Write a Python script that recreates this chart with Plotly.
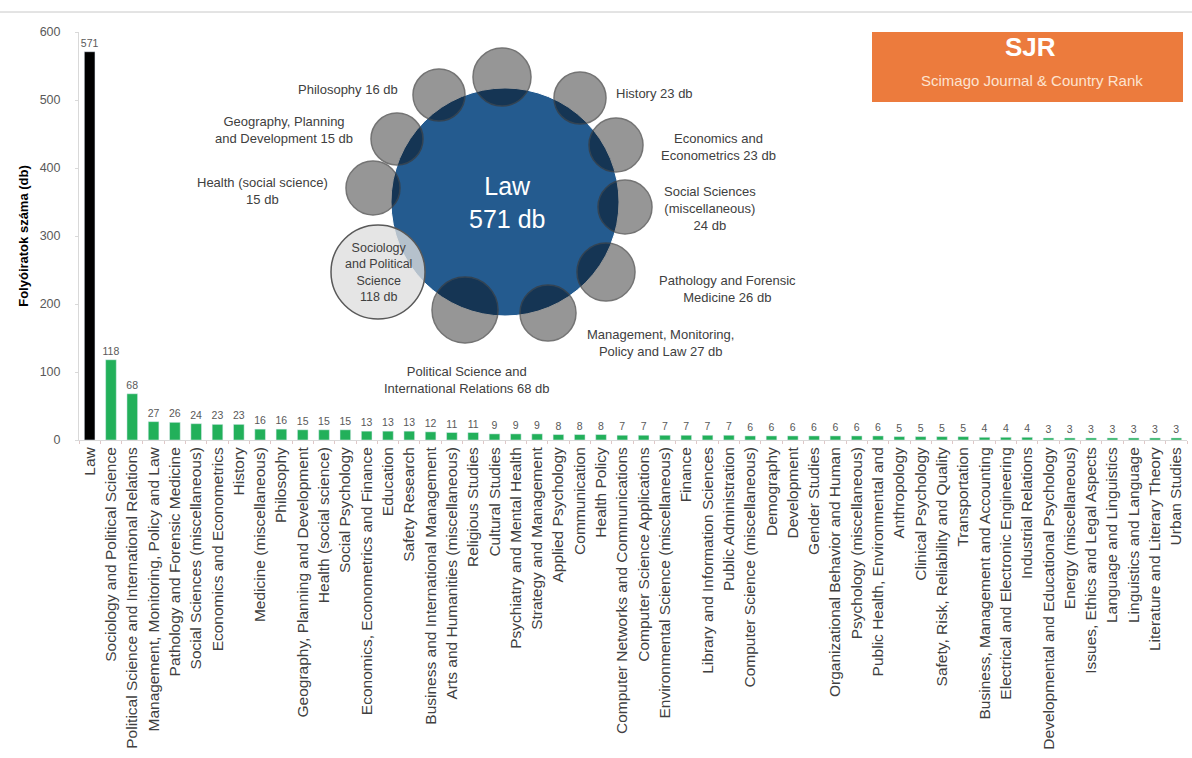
import plotly.graph_objects as go

categories = [
    "Law", "Sociology and Political Science", "Political Science and International Relations",
    "Management, Monitoring, Policy and Law", "Pathology and Forensic Medicine",
    "Social Sciences (miscellaneous)", "Economics and Econometrics", "History",
    "Medicine (miscellaneous)", "Philosophy", "Geography, Planning and Development",
    "Health (social science)", "Social Psychology", "Economics, Econometrics and Finance",
    "Education", "Safety Research", "Business and International Management",
    "Arts and Humanities (miscellaneous)", "Religious Studies", "Cultural Studies",
    "Psychiatry and Mental Health", "Strategy and Management", "Applied Psychology",
    "Communication", "Health Policy", "Computer Networks and Communications",
    "Computer Science Applications", "Environmental Science (miscellaneous)", "Finance",
    "Library and Information Sciences", "Public Administration",
    "Computer Science (miscellaneous)", "Demography", "Development", "Gender Studies",
    "Organizational Behavior and Human", "Psychology (miscellaneous)",
    "Public Health, Environmental and", "Anthropology", "Clinical Psychology",
    "Safety, Risk, Reliability and Quality", "Transportation",
    "Business, Management and Accounting", "Electrical and Electronic Engineering",
    "Industrial Relations", "Developmental and Educational Psychology",
    "Energy (miscellaneous)", "Issues, Ethics and Legal Aspects",
    "Language and Linguistics", "Linguistics and Language",
    "Literature and Literary Theory", "Urban Studies",
]
counts = [571, 118, 68, 27, 26, 24, 23, 23, 16, 16, 15, 15, 15, 13, 13, 13, 12, 11, 11,
          9, 9, 9, 8, 8, 8, 7, 7, 7, 7, 7, 7, 6, 6, 6, 6, 6, 6, 6, 5, 5, 5, 5, 4, 4, 4,
          3, 3, 3, 3, 3, 3, 3]
y_ticks = [0, 100, 200, 300, 400, 500, 600]

# Bubble inset (figure-pixel layout positions, diameters)
bubble_names = ["Medicine (miscellaneous)", "History", "Economics and Econometrics",
                "Social Sciences (miscellaneous)", "Pathology and Forensic Medicine",
                "Management, Monitoring, Policy and Law",
                "Political Science and International Relations",
                "Health (social science)", "Geography, Planning and Development", "Philosophy"]
bubble_x = [502, 580, 616, 625, 606, 548, 465, 373, 397, 439]
bubble_y = [77, 98, 145, 207, 272, 313, 310, 188, 139, 95]
bubble_d = [58, 52, 54, 54, 58, 56, 66, 54, 52, 52]
law_pos = (505, 202, 228)
soc_pos = (378, 272, 94)

bubble_labels = [
    ("Medicine<br>(miscellaneous) 16 db", 510, 31, "center"),
    ("History 23 db", 614, 93, "left"),
    ("Economics and<br>Econometrics 23 db", 718, 147, "center"),
    ("Social Sciences<br>(miscellaneous)<br>24 db", 710, 208, "center"),
    ("Pathology and Forensic<br>Medicine 26 db", 727, 289, "center"),
    ("Management, Monitoring,<br>Policy and Law 27 db", 660, 343, "center"),
    ("Political Science and<br>International Relations 68 db", 467, 380, "center"),
    ("Health (social science)<br>15 db", 262, 191, "center"),
    ("Geography, Planning<br>and Development 15 db", 284, 130, "center"),
    ("Philosophy 16 db", 400, 89, "right"),
]

W, H = 1192, 758
L, R, T, B = 79, 5, 32, 318
LABEL_FONT = "Liberation Sans"

bar_colors = ["#000000"] + ["#22b05a"] * (len(counts) - 1)

fig = go.Figure()
fig.add_trace(go.Bar(
    x=categories, y=counts, marker_color=bar_colors, width=0.5,
    text=[str(c) for c in counts], textposition="outside", constraintext="none",
    textfont=dict(size=10.5, color="#595959", family=LABEL_FONT),
    cliponaxis=False, showlegend=False,
))

# Bubble inset on pixel-mapped overlay axes
fig.add_trace(go.Scatter(
    x=[law_pos[0]], y=[law_pos[1]], mode="markers", xaxis="x2", yaxis="y2",
    marker=dict(size=law_pos[2], color="#245b8f", line=dict(width=1, color="#ffffff")),
    showlegend=False, hoverinfo="skip", cliponaxis=False,
))
fig.add_trace(go.Scatter(
    x=bubble_x, y=bubble_y, mode="markers", xaxis="x2", yaxis="y2",
    marker=dict(size=bubble_d, color="rgba(0,0,0,0.58)", line=dict(width=1.5, color="#3a3a3a")),
    text=bubble_names, showlegend=False, hoverinfo="text", cliponaxis=False,
))
fig.add_trace(go.Scatter(
    x=[soc_pos[0]], y=[soc_pos[1]], mode="markers", xaxis="x2", yaxis="y2",
    marker=dict(size=soc_pos[2], color="rgba(222,222,222,0.78)", line=dict(width=1.5, color="#595959")),
    showlegend=False, hoverinfo="skip", cliponaxis=False,
))

annotations = []
for txt, x, y, al in bubble_labels:
    annotations.append(dict(
        x=x, y=y, xref="x2", yref="y2", text=txt, showarrow=False,
        xanchor=al, yanchor="middle", align=al,
        font=dict(size=13, color="#404040", family=LABEL_FONT),
    ))
annotations.append(dict(
    x=law_pos[0] + 2, y=law_pos[1], xref="x2", yref="y2", text="Law<br>571 db",
    showarrow=False, font=dict(size=25, color="#ffffff", family=LABEL_FONT),
))
annotations.append(dict(
    x=soc_pos[0], y=soc_pos[1], xref="x2", yref="y2",
    text="Sociology<br>and Political<br>Science<br>118 db",
    showarrow=False, font=dict(size=12.5, color="#404040", family=LABEL_FONT),
))
# SJR badge
annotations.append(dict(
    x=1030, y=47, xref="x2", yref="y2", text="<b>SJR</b>", showarrow=False,
    font=dict(size=26, color="#ffffff", family=LABEL_FONT),
))
annotations.append(dict(
    x=1032, y=80, xref="x2", yref="y2", text="Scimago Journal &amp; Country Rank",
    showarrow=False, font=dict(size=15, color="#fde3d0", family=LABEL_FONT),
))

PW, PH = W - L - R, H - T - B
shapes = [
    dict(type="rect", xref="x2", yref="y2", x0=872, x1=1183, y0=27, y1=102,
         fillcolor="#ec7b3d", line=dict(width=0), layer="below"),
    dict(type="line", xref="paper", yref="paper", x0=-L / PW, x1=1 + R / PW,
         y0=1 + (T - 12) / PH, y1=1 + (T - 12) / PH,
         line=dict(color="#c8c8c8", width=1)),
]

fig.update_layout(
    width=W, height=H,
    margin=dict(l=L, r=R, t=T, b=B, autoexpand=False),
    paper_bgcolor="#ffffff", plot_bgcolor="#ffffff",
    xaxis=dict(
        type="category", tickangle=-90, showgrid=False, showline=True, automargin=False,
        linecolor="#d9d9d9", linewidth=1, ticks="outside", ticklen=3,
        tickcolor="#e0c8c8", tickson="boundaries",
        tickfont=dict(size=15.5, color="#404040", family=LABEL_FONT),
        range=[-0.5, len(categories) - 0.5],
    ),
    yaxis=dict(
        range=[0, 600], tickvals=y_ticks, showgrid=False, zeroline=False, automargin=False,
        showline=True, linecolor="#d9d9d9", ticks="outside", ticklen=3, tickcolor="#d9d9d9",
        ticklabelstandoff=12,
        tickfont=dict(size=12.5, color="#595959", family=LABEL_FONT),
        title=dict(text="<b>Folyóiratok száma (db)</b>", standoff=8,
                   font=dict(size=13, color="#000000", family=LABEL_FONT)),
    ),
    xaxis2=dict(overlaying="x", anchor="y2", range=[L, W - R], visible=False, domain=[0, 1]),
    yaxis2=dict(overlaying="y", anchor="x2", range=[H - B, T], visible=False, domain=[0, 1]),
    annotations=annotations,
    shapes=shapes,
)

fig.write_html(
    "out.html",
    config={"displayModeBar": False},
    post_script="document.body.style.margin='0';document.body.style.padding='0';"
                "document.body.style.overflow='hidden';",
)
